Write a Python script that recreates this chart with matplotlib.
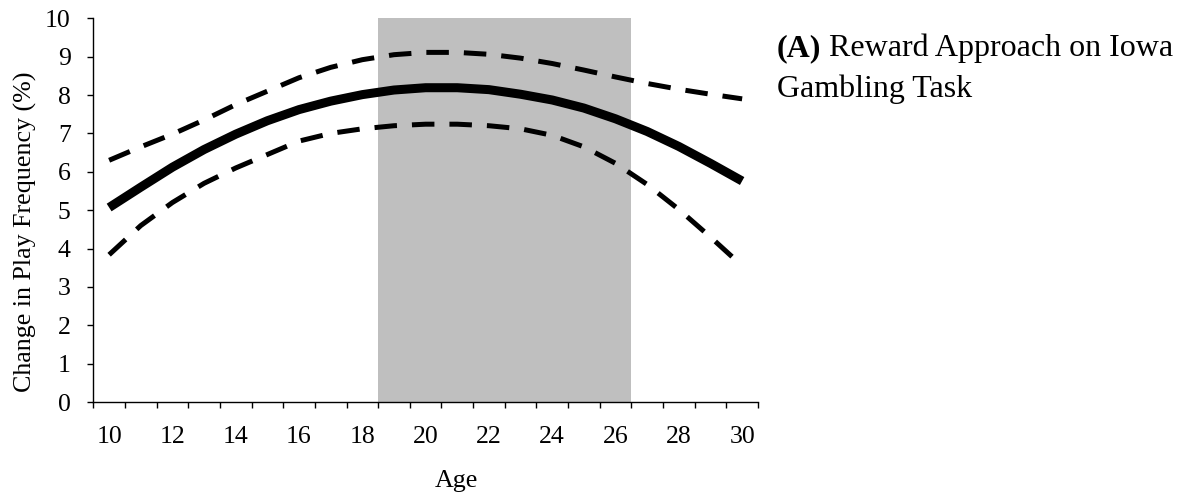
import numpy as np
import matplotlib
matplotlib.use('Agg')
import matplotlib.pyplot as plt

plt.rcParams['font.family'] = ['Liberation Serif', 'DejaVu Serif']

# fitted change in play frequency by age, with the confidence band
age = [10, 11, 12, 13, 14, 15, 16, 17, 18, 19, 20,
       21, 22, 23, 24, 25, 26, 27, 28, 29, 30]
fit = [5.07, 5.60, 6.12, 6.58, 6.98, 7.33, 7.62, 7.84, 8.01, 8.13, 8.19,
       8.19, 8.14, 8.02, 7.87, 7.66, 7.38, 7.05, 6.66, 6.22, 5.76]
upper = [6.30, 6.65, 6.98, 7.35, 7.75, 8.10, 8.45, 8.72, 8.92, 9.05, 9.11,
         9.11, 9.06, 8.96, 8.82, 8.65, 8.47, 8.30, 8.15, 8.02, 7.90]
lower = [3.84, 4.60, 5.20, 5.70, 6.10, 6.45, 6.80, 7.00, 7.12, 7.20, 7.24,
         7.24, 7.20, 7.12, 6.95, 6.65, 6.22, 5.67, 5.02, 4.30, 3.55]

# age window of peak reward approach
peakStart = 18.5
peakEnd = 26.5

xTicks = [10, 12, 14, 16, 18, 20, 22, 24, 26, 28, 30]
yTicks = [0, 1, 2, 3, 4, 5, 6, 7, 8, 9, 10]

fig = plt.figure(figsize=(11.81, 4.99), dpi=100)
ax = fig.add_axes([0.079, 0.194, 0.5628, 0.7695])

ax.axvspan(peakStart, peakEnd, ymin=0, ymax=1, color='#bfbfbf', lw=0, zorder=0)

ax.plot(age, upper, color='black', lw=3.6, dashes=(4.5, 3),
        solid_capstyle='butt', dash_capstyle='butt', zorder=3)
ax.plot(age, lower, color='black', lw=3.6, dashes=(4.5, 3),
        solid_capstyle='butt', dash_capstyle='butt', zorder=3)
ax.plot(age, fit, color='black', lw=6.5, solid_capstyle='butt', zorder=4)

ax.set_xlim(9.5, 30.5)
ax.set_ylim(0, 10)

ax.set_xticks(xTicks)
ax.set_xticklabels([str(t) for t in xTicks])
ax.set_xticks(np.arange(9.5, 31, 1.0), minor=True)
ax.tick_params(axis='x', which='major', length=0, pad=17, labelsize=18.5)
ax.tick_params(axis='x', which='minor', length=4.3, width=1, direction='out')

ax.set_yticks(yTicks)
ax.tick_params(axis='y', which='major', length=4.3, width=1, direction='out',
               pad=12, labelsize=18.5)

for side in ['top', 'right']:
    ax.spines[side].set_visible(False)
for side in ['left', 'bottom']:
    ax.spines[side].set_linewidth(1)
    ax.spines[side].set_color('black')

fig.text(25 / 1181, 0.535, 'Change in Play Frequency (%)', rotation=90,
         ha='center', va='center', fontsize=18.7)
fig.text(456 / 1181, 1 - 486.7 / 499, 'Age', ha='center', va='baseline',
         fontsize=18.7)

t1 = fig.text(777 / 1181, 1 - 56 / 499, '(A)', fontweight='bold',
              ha='left', va='baseline', fontsize=23)
fig.canvas.draw()
fig.text(0, 0, ' Reward Approach on Iowa', fontsize=23)
bb = t1.get_window_extent()
fig.texts[-1].set_position((bb.x1 / fig.bbox.width, 1 - 56 / 499))
fig.texts[-1].set_va('baseline')
fig.text(777 / 1181, 1 - 96.7 / 499, 'Gambling Task', ha='left',
         va='baseline', fontsize=23)

fig.savefig('out.png', dpi=100)
